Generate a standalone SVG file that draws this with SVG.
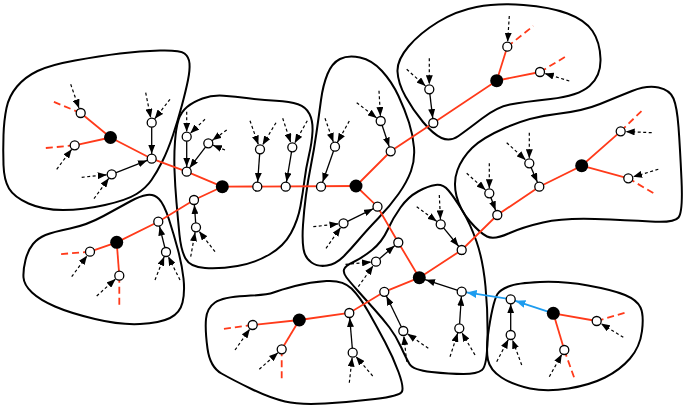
<svg xmlns="http://www.w3.org/2000/svg" width="685" height="409" viewBox="0 0 685 409">
<style>
.reg{fill:none;stroke:#000;stroke-width:2}
.red{fill:none;stroke:#ff3a1a;stroke-width:1.8}
.redd{fill:none;stroke:#ff3a1a;stroke-width:1.8;stroke-dasharray:7,4}
.arr{fill:none;stroke:#000;stroke-width:1.3;marker-end:url(#ah)}
.dsh{fill:none;stroke:#000;stroke-width:1.2;stroke-dasharray:3,2.5;marker-end:url(#ah)}
.blu{fill:none;stroke:#1e9cef;stroke-width:1.8;marker-end:url(#ahb)}
.wn{fill:#fff;stroke:#000;stroke-width:1.3}
.bn{fill:#000}
</style>
<defs>
<marker id="ah" markerUnits="userSpaceOnUse" viewBox="0 0 9 7" markerWidth="9" markerHeight="7" refX="14" refY="3.5" orient="auto"><path d="M0,0 L9,3.5 L0,7 z" fill="#000"/></marker>
<marker id="ahb" markerUnits="userSpaceOnUse" viewBox="0 0 10 8" markerWidth="10" markerHeight="8" refX="15" refY="4" orient="auto"><path d="M0,0 L10,4 L0,8 z" fill="#1e9cef"/></marker>
</defs>
<g id="regions">
<g id="region1"><path class="reg" d="M37.5,71 Q50,65 75,60.5 Q100,56 120,53.5 Q140,51 160,50.5 Q180,50 184.5,53.5 Q189,57 189.5,63.5 Q190,70 188,80 Q186,90 182,105 Q178,120 173,135 Q168,150 162.5,161 Q157,172 151.5,180 Q146,188 136.5,194 Q127,200 105,205 Q83,210 63,210 Q43,210 28.5,203.5 Q14,197 9,188.5 Q4,180 3.5,165 Q3,150 3.5,135 Q4,120 6.5,108 Q9,96 17,86.5 Q25,77 37.5,71 Z"/></g>
<g id="region2"><path class="reg" d="M187,107 Q193,102 202.5,98.5 Q212,95 223.5,95.75 Q235,96.5 248.5,98.25 Q262,100 276,100.75 Q290,101.5 298,104.25 Q306,107 309.5,114 Q313,121 312.5,131.5 Q312,142 309,155 Q306,168 304.5,180 Q303,192 300.5,206 Q298,220 291,233 Q284,246 269.5,254.5 Q255,263 237.5,266 Q220,269 205,268 Q190,267 185.5,258.5 Q181,250 179.5,235 Q178,220 176.5,202.5 Q175,185 174.5,170 Q174,155 175,141.5 Q176,128 178.5,120 Q181,112 187,107 Z"/></g>
<g id="region3"><path class="reg" d="M340,59 Q348,55 360,57.5 Q372,60 382,71 Q392,82 398.5,96 Q405,110 409,122.5 Q413,135 414,147.5 Q415,160 411,171 Q407,182 398.5,194 Q390,206 378.5,218 Q367,230 358.5,240 Q350,250 343,257 Q336,264 327,265.5 Q318,267 311.5,262.5 Q305,258 303.5,249 Q302,240 303,225 Q304,210 306,195 Q308,180 311,165 Q314,150 316.5,132.5 Q319,115 321,100 Q323,85 327.5,74 Q332,63 340,59 Z"/></g>
<g id="region4"><path class="reg" d="M408.5,46.5 Q420,33 438,22 Q456,11 476.5,7 Q497,3 523.5,5 Q550,7 567.5,13.5 Q585,20 592.5,31 Q600,42 600.5,59 Q601,76 589.5,86 Q578,96 550.5,99 Q523,102 510,104.5 Q497,107 482,118.5 Q467,130 458.5,136 Q450,142 441.5,138 Q433,134 423,122 Q413,110 405.5,96.5 Q398,83 397.5,71.5 Q397,60 408.5,46.5 Z"/></g>
<g id="region5"><path class="reg" d="M45.5,235 Q53,232 70,228.5 Q87,225 103.5,216 Q120,207 130,201.5 Q140,196 147,195 Q154,194 159,199 Q164,204 169,219.5 Q174,235 178,250 Q182,265 183.5,278.5 Q185,292 182.5,302.5 Q180,313 170,318 Q160,323 140,324 Q120,325 95,319 Q70,313 55,306.5 Q40,300 32,292.5 Q24,285 23.5,277.5 Q23,270 25.5,260 Q28,250 33,244 Q38,238 45.5,235 Z"/></g>
<g id="region6"><path class="reg" d="M457.5,170 Q462,158 472,148 Q482,138 506,127.5 Q530,117 556.5,114 Q583,111 600,104 Q617,97 632,91 Q647,85 658.5,87.5 Q670,90 673.5,98.5 Q677,107 678.5,127 Q680,147 681.5,179.5 Q683,212 678.5,217.5 Q674,223 650.5,221.5 Q627,220 595,219 Q563,218 543,222.5 Q523,227 508.5,233.5 Q494,240 487,236.5 Q480,233 470,221.5 Q460,210 456.5,196 Q453,182 457.5,170 Z"/></g>
<g id="region7"><path class="reg" d="M206,319 Q207,308 215,302.5 Q223,297 245,296 Q267,295 273.5,292.5 Q280,290 295,286 Q310,282 326.5,281 Q343,280 351.5,288.5 Q360,297 368.5,312 Q377,327 385,342 Q393,357 398.5,372 Q404,387 402,391.5 Q400,396 375,399 Q350,402 325,403.5 Q300,405 285,401.5 Q270,398 251.5,389 Q233,380 221.5,373.5 Q210,367 207.5,348.5 Q205,330 206,319 Z"/></g>
<g id="region8"><path class="reg" d="M344,269.5 Q345,266 353.5,262 Q362,258 372,250 Q382,242 387.5,230 Q393,218 400.5,207.5 Q408,197 418,191.5 Q428,186 435.5,185 Q443,184 448.5,190.5 Q454,197 462,210 Q470,223 476.5,241.5 Q483,260 485.5,286.5 Q488,313 487.5,339.5 Q487,366 482,370 Q477,374 463.5,374 Q450,374 431.5,372 Q413,370 409.5,364 Q406,358 401,347 Q396,336 389.5,327.5 Q383,319 374.5,309.5 Q366,300 358,291 Q350,282 346.5,277.5 Q343,273 344,269.5 Z"/></g>
<g id="region9"><path class="reg" d="M497.5,294 Q500,290 508.5,286.5 Q517,283 540,282 Q563,281 588,285.5 Q613,290 625,295 Q637,300 640.5,307.5 Q644,315 642,331 Q640,347 630,358.5 Q620,370 605,377.5 Q590,385 568.5,388.5 Q547,392 530,388.5 Q513,385 501.5,377.5 Q490,370 488,360 Q486,350 488,335 Q490,320 492.5,309 Q495,298 497.5,294 Z"/></g>
</g>
<g id="connectors">
<path class="red" d="M80.7,113 L110.5,137.5 L151.7,158.7 L186.7,171.7 L222.3,186.7"/>
<path class="red" d="M74.7,145.3 L110.5,137.5"/>
<path class="red" d="M222.3,186.7 L194,200 L158.3,221.7 L116.7,242.3 L90,251.7"/>
<path class="red" d="M116.7,242.3 L119.3,275.7"/>
<path class="red" d="M222.3,186.7 L356,186"/>
<path class="red" d="M356,186 L390.7,151.3 L433.3,123 L496.7,80.7 L507.3,46.7"/>
<path class="red" d="M496.7,80.7 L540,72"/>
<path class="red" d="M356,186 L377.5,206.7 L398.3,242.5 L419.3,277.7"/>
<path class="red" d="M419.3,277.7 L461.7,250 L497.3,215 L539.3,186.7 L581.7,165.7 L620.7,131.3"/>
<path class="red" d="M581.7,165.7 L628.3,178.3"/>
<path class="red" d="M419.3,277.7 L384.3,291.8 L349.3,313 L299.3,320 L252.7,325"/>
<path class="red" d="M299.3,320 L281.7,349.3"/>
<path class="red" d="M553.3,313.3 L596.7,321"/>
<path class="red" d="M553.3,313.3 L564.3,350"/>
<path class="redd" d="M80.7,113 L50.5,100.5"/>
<path class="redd" d="M74.7,145.3 L42.7,148.3"/>
<path class="redd" d="M90,251.7 L58.3,254.3"/>
<path class="redd" d="M119.3,275.7 L119.3,308.3"/>
<path class="redd" d="M507.3,46.7 L533.3,26"/>
<path class="redd" d="M540,72 L566.7,56"/>
<path class="redd" d="M620.7,131.3 L643.3,109.3"/>
<path class="redd" d="M628.3,178.3 L656.7,195"/>
<path class="redd" d="M252.7,325 L220,329.3"/>
<path class="redd" d="M281.7,349.3 L281.7,381.7"/>
<path class="redd" d="M596.7,321 L628.3,311.7"/>
<path class="redd" d="M564.3,350 L575,380"/>
<path class="arr" d="M151.7,122.7 L151.7,158.7"/>
<path class="arr" d="M111.7,174.3 L151.7,158.7"/>
<path class="arr" d="M186.7,136.7 L186.7,171.7"/>
<path class="arr" d="M208.3,143.3 L186.7,171.7"/>
<path class="arr" d="M260,149.3 L257.3,186.7"/>
<path class="arr" d="M292.3,147.3 L285.7,186.7"/>
<path class="arr" d="M196,227.3 L194,200"/>
<path class="arr" d="M335,146.7 L321,186.7"/>
<path class="arr" d="M380.7,121 L390.7,151.3"/>
<path class="arr" d="M343.5,223.3 L377.5,206.7"/>
<path class="arr" d="M429.3,89.3 L433.3,123"/>
<path class="arr" d="M166,252 L158.3,221.7"/>
<path class="arr" d="M529.3,163.3 L539.3,186.7"/>
<path class="arr" d="M489.3,193.3 L497.3,215"/>
<path class="arr" d="M352.7,352.7 L349.3,313"/>
<path class="arr" d="M376,261.7 L398.3,242.5"/>
<path class="arr" d="M440.7,224.3 L461.7,250"/>
<path class="arr" d="M403.3,331 L384.3,291.8"/>
<path class="arr" d="M461.7,291.7 L421.2,278.3"/>
<path class="arr" d="M459.3,328.3 L461.7,291.7"/>
<path class="arr" d="M510.7,335 L510.7,299.3"/>
<path class="blu" d="M553.3,313.3 L510.7,299.3"/>
<path class="blu" d="M510.7,299.3 L461.7,291.7"/>
<path class="dsh" d="M70.7,84.3 L80.7,113"/>
<path class="dsh" d="M56.7,169.3 L74.7,145.3"/>
<path class="dsh" d="M145.7,92.7 L151.7,122.7"/>
<path class="dsh" d="M170,99.3 L151.7,122.7"/>
<path class="dsh" d="M81.7,177.3 L111.7,174.3"/>
<path class="dsh" d="M94,198.7 L111.7,174.3"/>
<path class="dsh" d="M186.7,111.7 L186.7,136.7"/>
<path class="dsh" d="M205,119.3 L186.7,136.7"/>
<path class="dsh" d="M226.7,130 L208.3,143.3"/>
<path class="dsh" d="M225,150 L208.3,143.3"/>
<path class="dsh" d="M250,120.7 L260,149.3"/>
<path class="dsh" d="M276,122.7 L260,149.3"/>
<path class="dsh" d="M282.7,118.3 L292.3,147.3"/>
<path class="dsh" d="M307.3,120.7 L292.3,147.3"/>
<path class="dsh" d="M190.7,256.7 L196,227.3"/>
<path class="dsh" d="M215,251.7 L196,227.3"/>
<path class="dsh" d="M325,118.3 L335,146.7"/>
<path class="dsh" d="M349.3,121 L335,146.7"/>
<path class="dsh" d="M356.7,102.7 L380.7,121"/>
<path class="dsh" d="M379,90.7 L380.7,121"/>
<path class="dsh" d="M313.3,226.7 L343.5,223.3"/>
<path class="dsh" d="M326,248.3 L343.5,223.3"/>
<path class="dsh" d="M429.3,58.3 L429.3,89.3"/>
<path class="dsh" d="M406.7,69.3 L429.3,89.3"/>
<path class="dsh" d="M509.3,16 L507.3,46.7"/>
<path class="dsh" d="M569.3,81 L540,72"/>
<path class="dsh" d="M71.7,276.7 L90,251.7"/>
<path class="dsh" d="M96.7,296 L119.3,275.7"/>
<path class="dsh" d="M155,280 L166,252"/>
<path class="dsh" d="M180,280 L166,252"/>
<path class="dsh" d="M651.7,132.7 L620.7,131.3"/>
<path class="dsh" d="M658.3,169.3 L628.3,178.3"/>
<path class="dsh" d="M529.3,132.7 L529.3,163.3"/>
<path class="dsh" d="M506.7,142.7 L529.3,163.3"/>
<path class="dsh" d="M489.3,163.3 L489.3,193.3"/>
<path class="dsh" d="M466.7,173.3 L489.3,193.3"/>
<path class="dsh" d="M235,350 L252.7,325"/>
<path class="dsh" d="M259.3,369.3 L281.7,349.3"/>
<path class="dsh" d="M349.3,382.7 L352.7,352.7"/>
<path class="dsh" d="M372.7,376 L352.7,352.7"/>
<path class="dsh" d="M345.5,264.3 L376,261.7"/>
<path class="dsh" d="M358.3,286.7 L376,261.7"/>
<path class="dsh" d="M439.3,195 L440.7,224.3"/>
<path class="dsh" d="M416.7,206.7 L440.7,224.3"/>
<path class="dsh" d="M406.7,361.7 L403.3,331"/>
<path class="dsh" d="M428.3,348.3 L403.3,331"/>
<path class="dsh" d="M450,356.7 L459.3,328.3"/>
<path class="dsh" d="M475,355 L459.3,328.3"/>
<path class="dsh" d="M496.7,361.7 L510.7,335"/>
<path class="dsh" d="M521.7,365 L510.7,335"/>
<path class="dsh" d="M623.3,337.3 L596.7,321"/>
<path class="dsh" d="M549.3,376.7 L564.3,350"/>
</g>
<g id="A"><circle class="bn" cx="110.5" cy="137.5" r="6.5"/></g>
<g id="n1a"><circle class="wn" cx="80.7" cy="113" r="4.5"/></g>
<g id="n1b"><circle class="wn" cx="74.7" cy="145.3" r="4.5"/></g>
<g id="n1c"><circle class="wn" cx="151.7" cy="158.7" r="4.5"/></g>
<g id="n1d"><circle class="wn" cx="151.7" cy="122.7" r="4.5"/></g>
<g id="n1e"><circle class="wn" cx="111.7" cy="174.3" r="4.5"/></g>
<g id="B"><circle class="bn" cx="222.3" cy="186.7" r="6.5"/></g>
<g id="n2a"><circle class="wn" cx="186.7" cy="171.7" r="4.5"/></g>
<g id="n2b"><circle class="wn" cx="194" cy="200" r="4.5"/></g>
<g id="n2c"><circle class="wn" cx="257.3" cy="186.7" r="4.5"/></g>
<g id="n2d"><circle class="wn" cx="285.7" cy="186.7" r="4.5"/></g>
<g id="n2e"><circle class="wn" cx="186.7" cy="136.7" r="4.5"/></g>
<g id="n2f"><circle class="wn" cx="208.3" cy="143.3" r="4.5"/></g>
<g id="n2g"><circle class="wn" cx="260" cy="149.3" r="4.5"/></g>
<g id="n2h"><circle class="wn" cx="292.3" cy="147.3" r="4.5"/></g>
<g id="n2i"><circle class="wn" cx="196" cy="227.3" r="4.5"/></g>
<g id="C"><circle class="bn" cx="356" cy="186" r="6.5"/></g>
<g id="n3a"><circle class="wn" cx="321" cy="186.7" r="4.5"/></g>
<g id="n3b"><circle class="wn" cx="335" cy="146.7" r="4.5"/></g>
<g id="n3c"><circle class="wn" cx="390.7" cy="151.3" r="4.5"/></g>
<g id="n3d"><circle class="wn" cx="380.7" cy="121" r="4.5"/></g>
<g id="n3e"><circle class="wn" cx="377.5" cy="206.7" r="4.5"/></g>
<g id="n3f"><circle class="wn" cx="343.5" cy="223.3" r="4.5"/></g>
<g id="D"><circle class="bn" cx="496.7" cy="80.7" r="6.5"/></g>
<g id="n4a"><circle class="wn" cx="507.3" cy="46.7" r="4.5"/></g>
<g id="n4b"><circle class="wn" cx="540" cy="72" r="4.5"/></g>
<g id="n4c"><circle class="wn" cx="433.3" cy="123" r="4.5"/></g>
<g id="n4d"><circle class="wn" cx="429.3" cy="89.3" r="4.5"/></g>
<g id="E5"><circle class="bn" cx="116.7" cy="242.3" r="6.5"/></g>
<g id="n5a"><circle class="wn" cx="90" cy="251.7" r="4.5"/></g>
<g id="n5b"><circle class="wn" cx="119.3" cy="275.7" r="4.5"/></g>
<g id="n5c"><circle class="wn" cx="158.3" cy="221.7" r="4.5"/></g>
<g id="n5d"><circle class="wn" cx="166" cy="252" r="4.5"/></g>
<g id="E"><circle class="bn" cx="581.7" cy="165.7" r="6.5"/></g>
<g id="n6a"><circle class="wn" cx="620.7" cy="131.3" r="4.5"/></g>
<g id="n6b"><circle class="wn" cx="628.3" cy="178.3" r="4.5"/></g>
<g id="n6c"><circle class="wn" cx="539.3" cy="186.7" r="4.5"/></g>
<g id="n6d"><circle class="wn" cx="497.3" cy="215" r="4.5"/></g>
<g id="n6e"><circle class="wn" cx="529.3" cy="163.3" r="4.5"/></g>
<g id="n6f"><circle class="wn" cx="489.3" cy="193.3" r="4.5"/></g>
<g id="F"><circle class="bn" cx="299.3" cy="320" r="6.5"/></g>
<g id="n7a"><circle class="wn" cx="252.7" cy="325" r="4.5"/></g>
<g id="n7b"><circle class="wn" cx="281.7" cy="349.3" r="4.5"/></g>
<g id="n7c"><circle class="wn" cx="349.3" cy="313" r="4.5"/></g>
<g id="n7d"><circle class="wn" cx="352.7" cy="352.7" r="4.5"/></g>
<g id="G"><circle class="bn" cx="419.3" cy="277.7" r="6.5"/></g>
<g id="n8a"><circle class="wn" cx="398.3" cy="242.5" r="4.5"/></g>
<g id="n8b"><circle class="wn" cx="376" cy="261.7" r="4.5"/></g>
<g id="n8c"><circle class="wn" cx="461.7" cy="250" r="4.5"/></g>
<g id="n8d"><circle class="wn" cx="440.7" cy="224.3" r="4.5"/></g>
<g id="n8e"><circle class="wn" cx="384.3" cy="291.8" r="4.5"/></g>
<g id="n8f"><circle class="wn" cx="403.3" cy="331" r="4.5"/></g>
<g id="n8g"><circle class="wn" cx="461.7" cy="291.7" r="4.5"/></g>
<g id="n8h"><circle class="wn" cx="459.3" cy="328.3" r="4.5"/></g>
<g id="H"><circle class="bn" cx="553.3" cy="313.3" r="6.5"/></g>
<g id="n9a"><circle class="wn" cx="510.7" cy="299.3" r="4.5"/></g>
<g id="n9b"><circle class="wn" cx="510.7" cy="335" r="4.5"/></g>
<g id="n9c"><circle class="wn" cx="596.7" cy="321" r="4.5"/></g>
<g id="n9d"><circle class="wn" cx="564.3" cy="350" r="4.5"/></g>
</svg>
